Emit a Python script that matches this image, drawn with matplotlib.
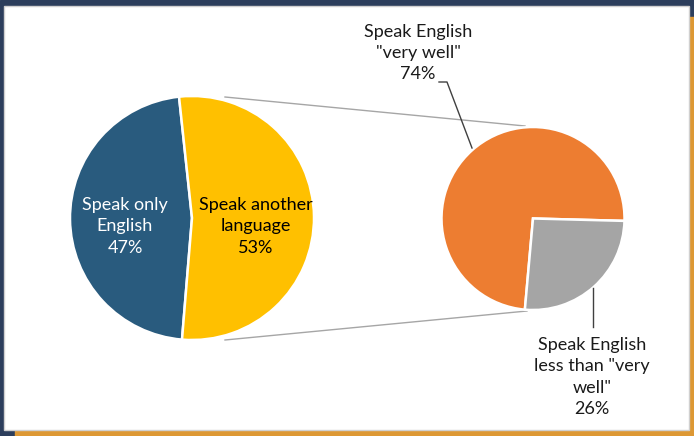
import matplotlib.pyplot as plt
from matplotlib.patches import Rectangle

# data
main_labels = ["Speak only\nEnglish", "Speak another\nlanguage"]
main_pct = [47, 53]
main_colors = ["#295B7E", "#FFC000"]
main_text_colors = ["white", "black"]

sub_labels = ['Speak English\n"very well"', 'Speak English\nless than "very\nwell"']
sub_pct = [74, 26]
sub_colors = ["#ED7D31", "#A5A5A5"]

W, H = 694, 436
FONT = "Lato"
FS = 13
LS = 1.42


def py(y):
    # pixel row (top-down) to data y (bottom-up)
    return H - y


fig = plt.figure(figsize=(W / 100, H / 100), dpi=100)
ax = fig.add_axes([0, 0, 1, 1])

# frame: navy behind, orange offset, white panel on top
ax.add_patch(Rectangle((0, 0), W, H, color="#2C3E5C", zorder=0))
ax.add_patch(Rectangle((15, 0), W - 15, py(17), color="#DD9834", zorder=1))
ax.add_patch(Rectangle((4, py(430)), 685, 424, facecolor="white",
                       edgecolor="#D0D0D0", lw=1, zorder=2))

# main pie
wedges, _ = ax.pie(main_pct, colors=main_colors, startangle=96.1,
                   center=(192, py(218)), radius=122,
                   wedgeprops=dict(edgecolor="white", linewidth=1.8))
for w in wedges:
    w.set_zorder(5)

# secondary pie
wedges2, _ = ax.pie(sub_pct, colors=sub_colors, startangle=-1.5,
                    center=(533, py(218.5)), radius=91.5,
                    wedgeprops=dict(edgecolor="white", linewidth=1.8))
for w in wedges2:
    w.set_zorder(5)

# connector lines between the pies
ax.plot([225, 525], [py(97), py(126)], color="#A6A6A6", lw=1, zorder=4)
ax.plot([225, 527], [py(340), py(311)], color="#A6A6A6", lw=1, zorder=4)

# labels in the main pie
for x, lab, pct, tc in zip([125, 256], main_labels, main_pct, main_text_colors):
    ax.text(x, py(226.5), f"{lab}\n{pct}%", ha="center", va="center",
            color=tc, fontsize=FS, family=FONT, linespacing=LS, zorder=6)

# labels of the secondary pie with leader lines
ax.text(418, py(53), f"{sub_labels[0]}\n{sub_pct[0]}%", ha="center", va="center",
        color="#1A1A1A", fontsize=FS, family=FONT, linespacing=LS, zorder=6)
ax.plot([439, 447, 472], [py(82), py(82), py(148)], color="#404040", lw=1, zorder=6)

ax.text(592, py(377), f"{sub_labels[1]}\n{sub_pct[1]}%", ha="center", va="center",
        color="#1A1A1A", fontsize=FS, family=FONT, linespacing=LS, zorder=6)
ax.plot([593, 593], [py(288), py(327)], color="#404040", lw=1, zorder=6)

ax.set_xlim(0, W)
ax.set_ylim(0, H)
ax.set_aspect("auto")
ax.axis("off")

fig.savefig("out.png", dpi=100)
